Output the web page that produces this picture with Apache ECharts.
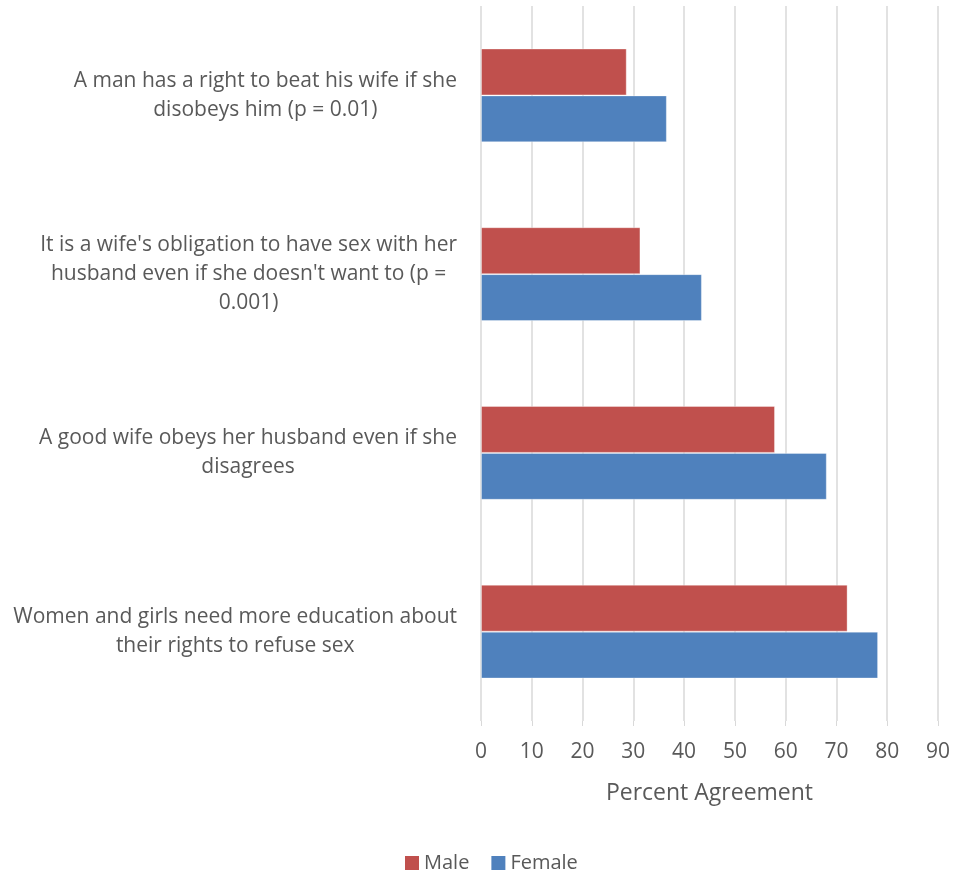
<!DOCTYPE html>
<html>
<head>
<meta charset="utf-8">
<script src="https://cdn.jsdelivr.net/npm/echarts@6/dist/echarts.min.js"></script>
<style>
html,body{margin:0;padding:0;background:#fff;}
#chart{width:963px;height:871px;}
</style>
</head>
<body>
<div id="chart"></div>
<script>
const categories = [
  ["A man has a right to beat his wife if she", "disobeys him (p = 0.01)"],
  ["It is a wife's obligation to have sex with her", "husband even if she doesn't want to (p =", "0.001)"],
  ["A good wife obeys her husband even if she", "disagrees"],
  ["Women and girls need more education about", "their rights to refuse sex"]
];
const maleValues = [28.7, 31.4, 57.9, 72.2];
const femaleValues = [36.6, 43.5, 68.1, 78.2];
const xTicks = [0, 10, 20, 30, 40, 50, 60, 70, 80, 90];

const catLabels = categories.map(lines => lines.join('\n'));

const chart = echarts.init(document.getElementById('chart'));
chart.setOption({
  animation: false,
  textStyle: { fontFamily: 'Open Sans' },
  grid: { left: 481, right: 25, top: 6, bottom: 150, containLabel: false },
  legend: {
    top: 848,
    left: 400,
    itemWidth: 14,
    itemHeight: 14,
    itemGap: 22,
    itemStyle: { borderWidth: 0 },
    icon: 'rect',
    textStyle: { fontSize: 20, color: '#595959', fontFamily: 'Open Sans' },
    data: ['Male', 'Female']
  },
  xAxis: {
    type: 'value',
    min: xTicks[0],
    max: xTicks[xTicks.length - 1],
    interval: 10,
    name: 'Percent Agreement',
    nameLocation: 'middle',
    nameGap: 61,
    nameTextStyle: { fontSize: 23, color: '#595959', fontFamily: 'Open Sans' },
    axisLine: { show: false },
    axisTick: { show: true, length: 5, lineStyle: { color: '#d9d9d9' } },
    axisLabel: { fontSize: 21, color: '#595959', margin: 21, fontFamily: 'Open Sans' },
    splitLine: { show: true, lineStyle: { color: '#d9d9d9', width: 1.5 } }
  },
  yAxis: {
    type: 'category',
    inverse: true,
    data: catLabels,
    axisLine: { show: false },
    axisTick: { show: false },
    axisLabel: {
      margin: 24,
      align: 'right',
      color: '#595959',
      fontSize: 21,
      lineHeight: 29,
      fontFamily: 'Open Sans',
      formatter: function (v) {
        return v.split('\n').map(l => '{c|' + l + '}').join('\n');
      },
      rich: {
        c: { align: 'center', fontSize: 21, lineHeight: 29, color: '#595959', fontFamily: 'Open Sans' }
      }
    }
  },
  series: [
    {
      name: 'Male',
      type: 'bar',
      data: maleValues,
      barGap: '0%',
      barCategoryGap: '47.5%',
      itemStyle: { color: '#C0504D', borderColor: 'rgba(255,255,255,0.35)', borderWidth: 1 }
    },
    {
      name: 'Female',
      type: 'bar',
      data: femaleValues,
      barGap: '0%',
      barCategoryGap: '47.5%',
      itemStyle: { color: '#4F81BD', borderColor: 'rgba(255,255,255,0.35)', borderWidth: 1 }
    }
  ]
});
</script>
</body>
</html>
